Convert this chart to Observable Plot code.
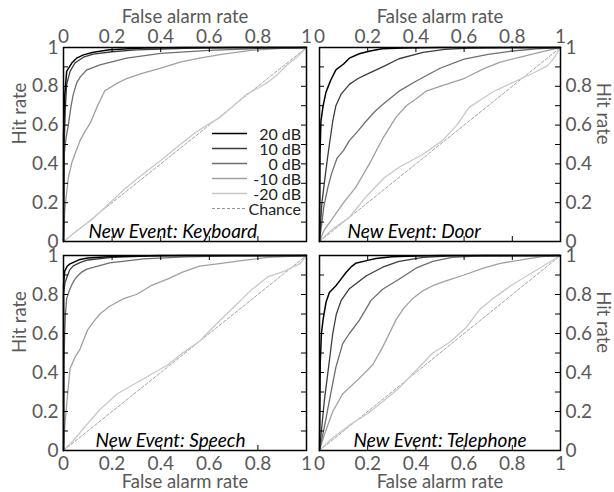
<!DOCTYPE html>
<html><head><meta charset="utf-8">
<script src="https://cdn.jsdelivr.net/npm/d3@7"></script>
<script src="https://cdn.jsdelivr.net/npm/@observablehq/plot@0.6"></script>
<style>
body{margin:0;background:#fff;}
#fig{position:relative;width:614px;height:492px;font-family:Lato,sans-serif;color:#595959;overflow:hidden;}
#fig svg{position:absolute;overflow:visible;}
#legend{position:absolute;left:212px;top:126px;width:89px;font:16px Lato,sans-serif;color:#222;line-height:15px;}
#legend .row{display:flex;justify-content:space-between;align-items:center;height:15px;}
#legend .row svg{position:static;}
</style></head><body><div id="fig"></div><script>
// ---- tick values ----
const xTickLabels = [0, 0.2, 0.4, 0.6, 0.8, 1];
const yTickLabels = [0, 0.2, 0.4, 0.6, 0.8, 1];
const xMinorTicks = [0.2, 0.4, 0.6, 0.8];
const yMinorTicks = [0.1, 0.2, 0.3, 0.4, 0.5, 0.6, 0.7, 0.8, 0.9];
const chance = [0, 1];

// ---- series labels ----
const snrLabels = ["20 dB", "10 dB", "0 dB", "-10 dB", "-20 dB"];
const chanceLabel = "Chance";
const panelTitles = ["New Event: Keyboard", "New Event: Door", "New Event: Speech", "New Event: Telephone"];
const xTitle = "False alarm rate";
const yTitle = "Hit rate";

// ---- ROC curves: [false alarm rate, hit rate] ----
const keyboard20 = [[0,0],[0,0.55],[0.005,0.75],[0.013,0.877],[0.034,0.92],[0.054,0.945],[0.082,0.962],[0.123,0.976],[0.19,0.988],[0.33,0.997],[0.5,1],[1,1]];
const keyboard10 = [[0,0],[0.003,0.5],[0.008,0.7],[0.013,0.81],[0.027,0.877],[0.047,0.92],[0.082,0.95],[0.123,0.966],[0.2,0.978],[0.3,0.988],[0.5,0.996],[0.7,1],[1,1]];
const keyboard0 = [[0,0],[0.003,0.45],[0.01,0.53],[0.02,0.6],[0.03,0.69],[0.04,0.757],[0.055,0.82],[0.07,0.85],[0.096,0.885],[0.15,0.91],[0.26,0.945],[0.4,0.97],[0.6,0.985],[0.8,0.995],[1,1]];
const keyboardM10 = [[0,0],[0.005,0.15],[0.01,0.22],[0.02,0.33],[0.035,0.41],[0.05,0.46],[0.068,0.52],[0.09,0.57],[0.11,0.61],[0.14,0.7],[0.17,0.777],[0.22,0.815],[0.26,0.84],[0.32,0.865],[0.4,0.894],[0.48,0.925],[0.56,0.945],[0.65,0.965],[0.77,0.985],[0.9,0.995],[1,1]];
const keyboardM20 = [[0,0],[0.05,0.05],[0.123,0.12],[0.2,0.21],[0.26,0.28],[0.33,0.35],[0.4,0.417],[0.47,0.49],[0.535,0.554],[0.59,0.6],[0.645,0.64],[0.7,0.7],[0.755,0.76],[0.8,0.79],[0.84,0.82],[0.88,0.86],[0.92,0.91],[0.96,0.95],[1,1]];

const door20 = [[0,0],[0.002,0.45],[0.006,0.62],[0.015,0.7],[0.027,0.77],[0.046,0.83],[0.068,0.885],[0.1,0.915],[0.124,0.945],[0.165,0.968],[0.21,0.982],[0.26,0.993],[0.35,0.998],[0.5,1],[1,1]];
const door10 = [[0,0],[0.01,0.2],[0.02,0.3],[0.03,0.4],[0.041,0.5],[0.055,0.62],[0.068,0.7],[0.09,0.76],[0.124,0.81],[0.16,0.84],[0.193,0.86],[0.262,0.9],[0.33,0.942],[0.43,0.975],[0.52,0.99],[0.62,0.997],[0.8,1],[1,1]];
const door0 = [[0,0],[0.018,0.18],[0.035,0.28],[0.05,0.35],[0.073,0.43],[0.1,0.47],[0.124,0.52],[0.16,0.57],[0.193,0.62],[0.23,0.67],[0.262,0.706],[0.33,0.775],[0.4,0.826],[0.5,0.893],[0.6,0.94],[0.7,0.965],[0.8,0.982],[0.9,0.993],[1,1]];
const doorM10 = [[0,0],[0.02,0.06],[0.055,0.12],[0.1,0.2],[0.151,0.28],[0.207,0.4],[0.262,0.53],[0.317,0.64],[0.36,0.7],[0.4,0.735],[0.442,0.775],[0.525,0.81],[0.6,0.84],[0.68,0.89],[0.75,0.925],[0.85,0.955],[0.93,0.98],[1,1]];
const doorM20 = [[0,0],[0.05,0.06],[0.124,0.125],[0.2,0.24],[0.27,0.33],[0.33,0.383],[0.43,0.45],[0.51,0.52],[0.57,0.6],[0.62,0.69],[0.68,0.74],[0.73,0.778],[0.82,0.83],[0.89,0.87],[0.945,0.905],[0.97,0.94],[1,1]];

const speech20 = [[0,0],[0,0.85],[0.005,0.92],[0.015,0.945],[0.027,0.957],[0.05,0.97],[0.068,0.98],[0.1,0.987],[0.2,0.995],[0.4,1],[1,1]];
const speech10 = [[0,0],[0,0.8],[0.006,0.86],[0.013,0.885],[0.025,0.925],[0.04,0.947],[0.07,0.965],[0.1,0.977],[0.2,0.99],[0.35,0.997],[0.5,1],[1,1]];
const speech0 = [[0,0],[0.002,0.45],[0.005,0.6],[0.008,0.7],[0.013,0.78],[0.027,0.83],[0.04,0.865],[0.054,0.89],[0.075,0.915],[0.096,0.93],[0.19,0.962],[0.33,0.983],[0.5,0.993],[0.7,0.998],[1,1]];
const speechM10 = [[0,0],[0.005,0.12],[0.014,0.25],[0.027,0.42],[0.048,0.48],[0.068,0.52],[0.1,0.62],[0.123,0.66],[0.15,0.7],[0.19,0.74],[0.25,0.78],[0.3,0.8],[0.36,0.845],[0.43,0.88],[0.49,0.915],[0.56,0.945],[0.65,0.96],[0.74,0.975],[0.84,0.99],[1,1]];
const speechM20 = [[0,0],[0.04,0.05],[0.08,0.11],[0.15,0.21],[0.22,0.29],[0.29,0.34],[0.36,0.39],[0.43,0.44],[0.49,0.5],[0.56,0.56],[0.63,0.65],[0.7,0.735],[0.77,0.82],[0.84,0.89],[0.91,0.92],[0.975,0.96],[1,1]];

const telephone20 = [[0,0],[0.003,0.45],[0.008,0.6],[0.015,0.673],[0.027,0.76],[0.041,0.81],[0.068,0.845],[0.09,0.88],[0.11,0.913],[0.13,0.94],[0.15,0.96],[0.2,0.975],[0.234,0.985],[0.3,0.993],[0.4,0.998],[0.5,1],[1,1]];
const telephone10 = [[0,0],[0.008,0.1],[0.02,0.256],[0.04,0.45],[0.055,0.6],[0.07,0.7],[0.09,0.77],[0.124,0.83],[0.193,0.895],[0.262,0.94],[0.33,0.97],[0.43,0.99],[0.55,0.998],[0.7,1],[1,1]];
const telephone0 = [[0,0],[0.02,0.12],[0.041,0.256],[0.068,0.427],[0.096,0.547],[0.124,0.6],[0.165,0.667],[0.214,0.77],[0.262,0.827],[0.33,0.878],[0.4,0.935],[0.47,0.97],[0.55,0.99],[0.65,0.997],[1,1]];
const telephoneM10 = [[0,0],[0.02,0.08],[0.055,0.2],[0.096,0.29],[0.165,0.37],[0.221,0.44],[0.262,0.53],[0.29,0.6],[0.317,0.67],[0.35,0.73],[0.387,0.78],[0.43,0.82],[0.47,0.845],[0.525,0.87],[0.6,0.9],[0.68,0.935],[0.75,0.96],[0.85,0.98],[0.93,0.995],[1,1]];
const telephoneM20 = [[0,0],[0.05,0.06],[0.124,0.13],[0.2,0.19],[0.262,0.25],[0.33,0.32],[0.4,0.41],[0.47,0.5],[0.54,0.555],[0.608,0.63],[0.663,0.72],[0.72,0.78],[0.8,0.85],[0.88,0.91],[0.94,0.955],[1,1]];

// ---- styles ----
const snrColors = ["#000000", "#3c3c3c", "#6e6e6e", "#a0a0a0", "#c8c8c8"];
const snrWidths = [1.5, 1.3, 1.3, 1.3, 1.3];
const chanceStyle = {stroke: "#8a8a8a", strokeWidth: 0.8, strokeDasharray: "3,2"};
const textColor = "#595959";
const FONT = "Lato, sans-serif";
const TITLE_SIZE = 18.5;

const fig = document.getElementById("fig");

// layout of each panel
const panels = [
  {curves: [keyboard20, keyboard10, keyboard0, keyboardM10, keyboardM20], title: panelTitles[0], titleDx: 25,
   left: 0, top: 0, width: 312, height: 248, mL: 63, mR: 6, mT: 47, mB: 7, xAxis: "top", yAxis: "left"},
  {curves: [door20, door10, door0, doorM10, doorM20], title: panelTitles[1], titleDx: 28,
   left: 312, top: 0, width: 302, height: 248, mL: 7, mR: 54, mT: 47, mB: 7, xAxis: "top", yAxis: "right"},
  {curves: [speech20, speech10, speech0, speechM10, speechM20], title: panelTitles[2], titleDx: 32,
   left: 0, top: 248, width: 312, height: 244, mL: 63, mR: 6, mT: 7, mB: 42, xAxis: "bottom", yAxis: "left"},
  {curves: [telephone20, telephone10, telephone0, telephoneM10, telephoneM20], title: panelTitles[3], titleDx: 34,
   left: 312, top: 248, width: 302, height: 244, mL: 7, mR: 54, mT: 7, mB: 42, xAxis: "bottom", yAxis: "right"}
];

for (const p of panels) {
  const fw = p.width - p.mL - p.mR;
  const fh = p.height - p.mT - p.mB;
  const tick = 5;
  const lines = [];
  for (let i = p.curves.length - 1; i >= 0; --i) {
    lines.push(Plot.line(p.curves[i], {x: d => d[0], y: d => d[1], stroke: snrColors[i], strokeWidth: snrWidths[i]}));
  }
  const xTitleMark = p.xAxis === "top"
    ? Plot.text([xTitle], {frameAnchor: "top", lineAnchor: "bottom", dy: -25, fill: textColor, fontSize: TITLE_SIZE})
    : Plot.text([xTitle], {frameAnchor: "bottom", lineAnchor: "bottom", dy: 37, fill: textColor, fontSize: TITLE_SIZE});
  const yTitleMark = p.yAxis === "left"
    ? Plot.text([yTitle], {frameAnchor: "left", rotate: -90, dx: -43, fill: textColor, fontSize: TITLE_SIZE})
    : Plot.text([yTitle], {frameAnchor: "right", rotate: 90, dx: 42, fill: textColor, fontSize: TITLE_SIZE});
  const svg = Plot.plot({
    width: p.width, height: p.height,
    marginLeft: p.mL, marginRight: p.mR, marginTop: p.mT, marginBottom: p.mB,
    x: {domain: [0, 1], axis: p.xAxis, ticks: xTickLabels, tickFormat: d => String(d), tickSize: 0,
        tickPadding: p.xAxis === "top" ? 5 : 6, label: null},
    y: {domain: [0, 1], axis: p.yAxis, ticks: yTickLabels, tickFormat: d => String(d), tickSize: 0,
        tickPadding: 5, label: null},
    style: {fontFamily: FONT, fontSize: "19px", color: textColor, background: "transparent", overflow: "visible"},
    marks: [
      Plot.line(chance, {x: d => d, y: d => d, ...chanceStyle}),
      ...lines,
      Plot.tickX(xMinorTicks, {x: d => d, stroke: "#000", strokeWidth: 1, insetBottom: fh - tick}),
      Plot.tickX(xMinorTicks, {x: d => d, stroke: "#000", strokeWidth: 1, insetTop: fh - tick}),
      Plot.tickY(yMinorTicks, {y: d => d, stroke: "#000", strokeWidth: 1, insetRight: fw - tick}),
      Plot.tickY(yMinorTicks, {y: d => d, stroke: "#000", strokeWidth: 1, insetLeft: fw - tick}),
      Plot.frame({stroke: "#000", strokeWidth: 1.5}),
      Plot.text([p.title], {frameAnchor: "bottom-left", textAnchor: "start", lineAnchor: "bottom", dx: p.titleDx, dy: -4,
        fontStyle: "italic", fontSize: 19, fill: "#000"}),
      xTitleMark,
      yTitleMark
    ]
  });
  svg.style.left = p.left + "px";
  svg.style.top = p.top + "px";
  fig.appendChild(svg);
}

// legend (inside the Keyboard panel)
const legend = document.createElement("div");
legend.id = "legend";
const entries = snrLabels.map((l, i) => ({label: l, color: snrColors[i], width: snrWidths[i], dash: null}))
  .concat([{label: chanceLabel, color: chanceStyle.stroke, width: 0.9, dash: chanceStyle.strokeDasharray}]);
for (const e of entries) {
  const row = document.createElement("div");
  row.className = "row";
  const ns = "http://www.w3.org/2000/svg";
  const s = document.createElementNS(ns, "svg");
  s.setAttribute("width", 35); s.setAttribute("height", 15);
  const ln = document.createElementNS(ns, "line");
  ln.setAttribute("x1", 0); ln.setAttribute("x2", 35); ln.setAttribute("y1", 7.5); ln.setAttribute("y2", 7.5);
  ln.setAttribute("stroke", e.color); ln.setAttribute("stroke-width", e.width);
  if (e.dash) ln.setAttribute("stroke-dasharray", e.dash);
  s.appendChild(ln);
  const t = document.createElement("span");
  t.textContent = e.label;
  row.appendChild(s); row.appendChild(t);
  legend.appendChild(row);
}
fig.appendChild(legend);
</script></body></html>
